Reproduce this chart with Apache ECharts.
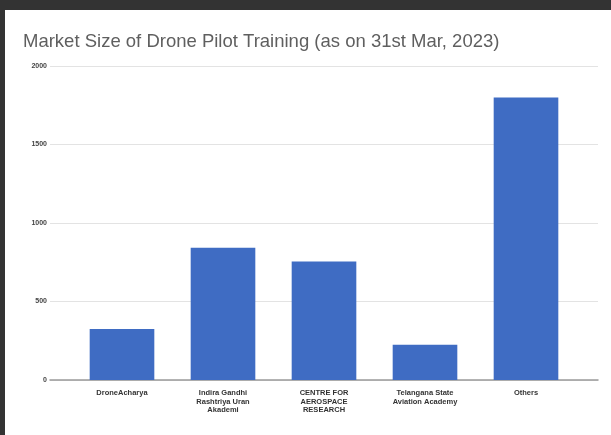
<!DOCTYPE html>
<html><head><meta charset="utf-8">
<script src="https://cdn.jsdelivr.net/npm/echarts@6/dist/echarts.min.js"></script>
<style>html,body{margin:0;padding:0;background:#333;}#wrap{position:absolute;left:5px;top:10px;width:606px;height:425px;background:#fff;}#c{position:absolute;left:-5px;top:-10px;width:611px;height:435px;}</style>
</head><body><div id="wrap"><div id="c"></div></div>
<script>
const categories = ["DroneAcharya", "Indira Gandhi\nRashtriya Uran\nAkademi", "CENTRE FOR\nAEROSPACE\nRESEARCH", "Telangana State\nAviation Academy", "Others"];
const values = [325, 843, 755, 225, 1800];
const yTicks = [0, 500, 1000, 1500, 2000];

const chart = echarts.init(document.getElementById('c'));
chart.setOption({
  animation: false,
  title: {text: "Market Size of Drone Pilot Training (as on 31st Mar, 2023)", left: 18, top: 27,
    textStyle: {fontFamily: "Liberation Sans", fontSize: 18.5, fontWeight: "normal", color: "#5f5f5f"}},
  grid: [
    {left: 50, right: 13, top: 66, bottom: 55},
    {left: 71.5, right: 34.5, top: 66, bottom: 55}
  ],
  xAxis: [
    {gridIndex: 0, type: 'category', data: [''], axisLine: {lineStyle: {color: '#9a9a9a', width: 1.5}}, axisTick: {show: false}, axisLabel: {show: false}},
    {gridIndex: 1, type: 'category', data: categories, axisLine: {show: false}, axisTick: {show: false},
      axisLabel: {interval: 0, fontFamily: "Liberation Sans", fontSize: 7.5, fontWeight: 'bold', color: '#333', lineHeight: 8.5, margin: 9}}
  ],
  yAxis: [
    {gridIndex: 0, type: 'value', min: 0, max: 2000, interval: 500,
      axisLabel: {fontFamily: "Liberation Sans", fontSize: 7, fontWeight: 'bold', color: '#444', margin: 3,
        formatter: v => yTicks.includes(v) ? String(v) : ''},
      splitLine: {lineStyle: {color: '#e3e3e3'}}, axisLine: {show: false}, axisTick: {show: false}},
    {gridIndex: 1, type: 'value', min: 0, max: 2000, show: false, splitLine: {show: false}}
  ],
  series: [{type: 'bar', xAxisIndex: 1, yAxisIndex: 1, data: values, barWidth: '64%',
    itemStyle: {color: '#3f6cc3'}}]
});
</script></body></html>
